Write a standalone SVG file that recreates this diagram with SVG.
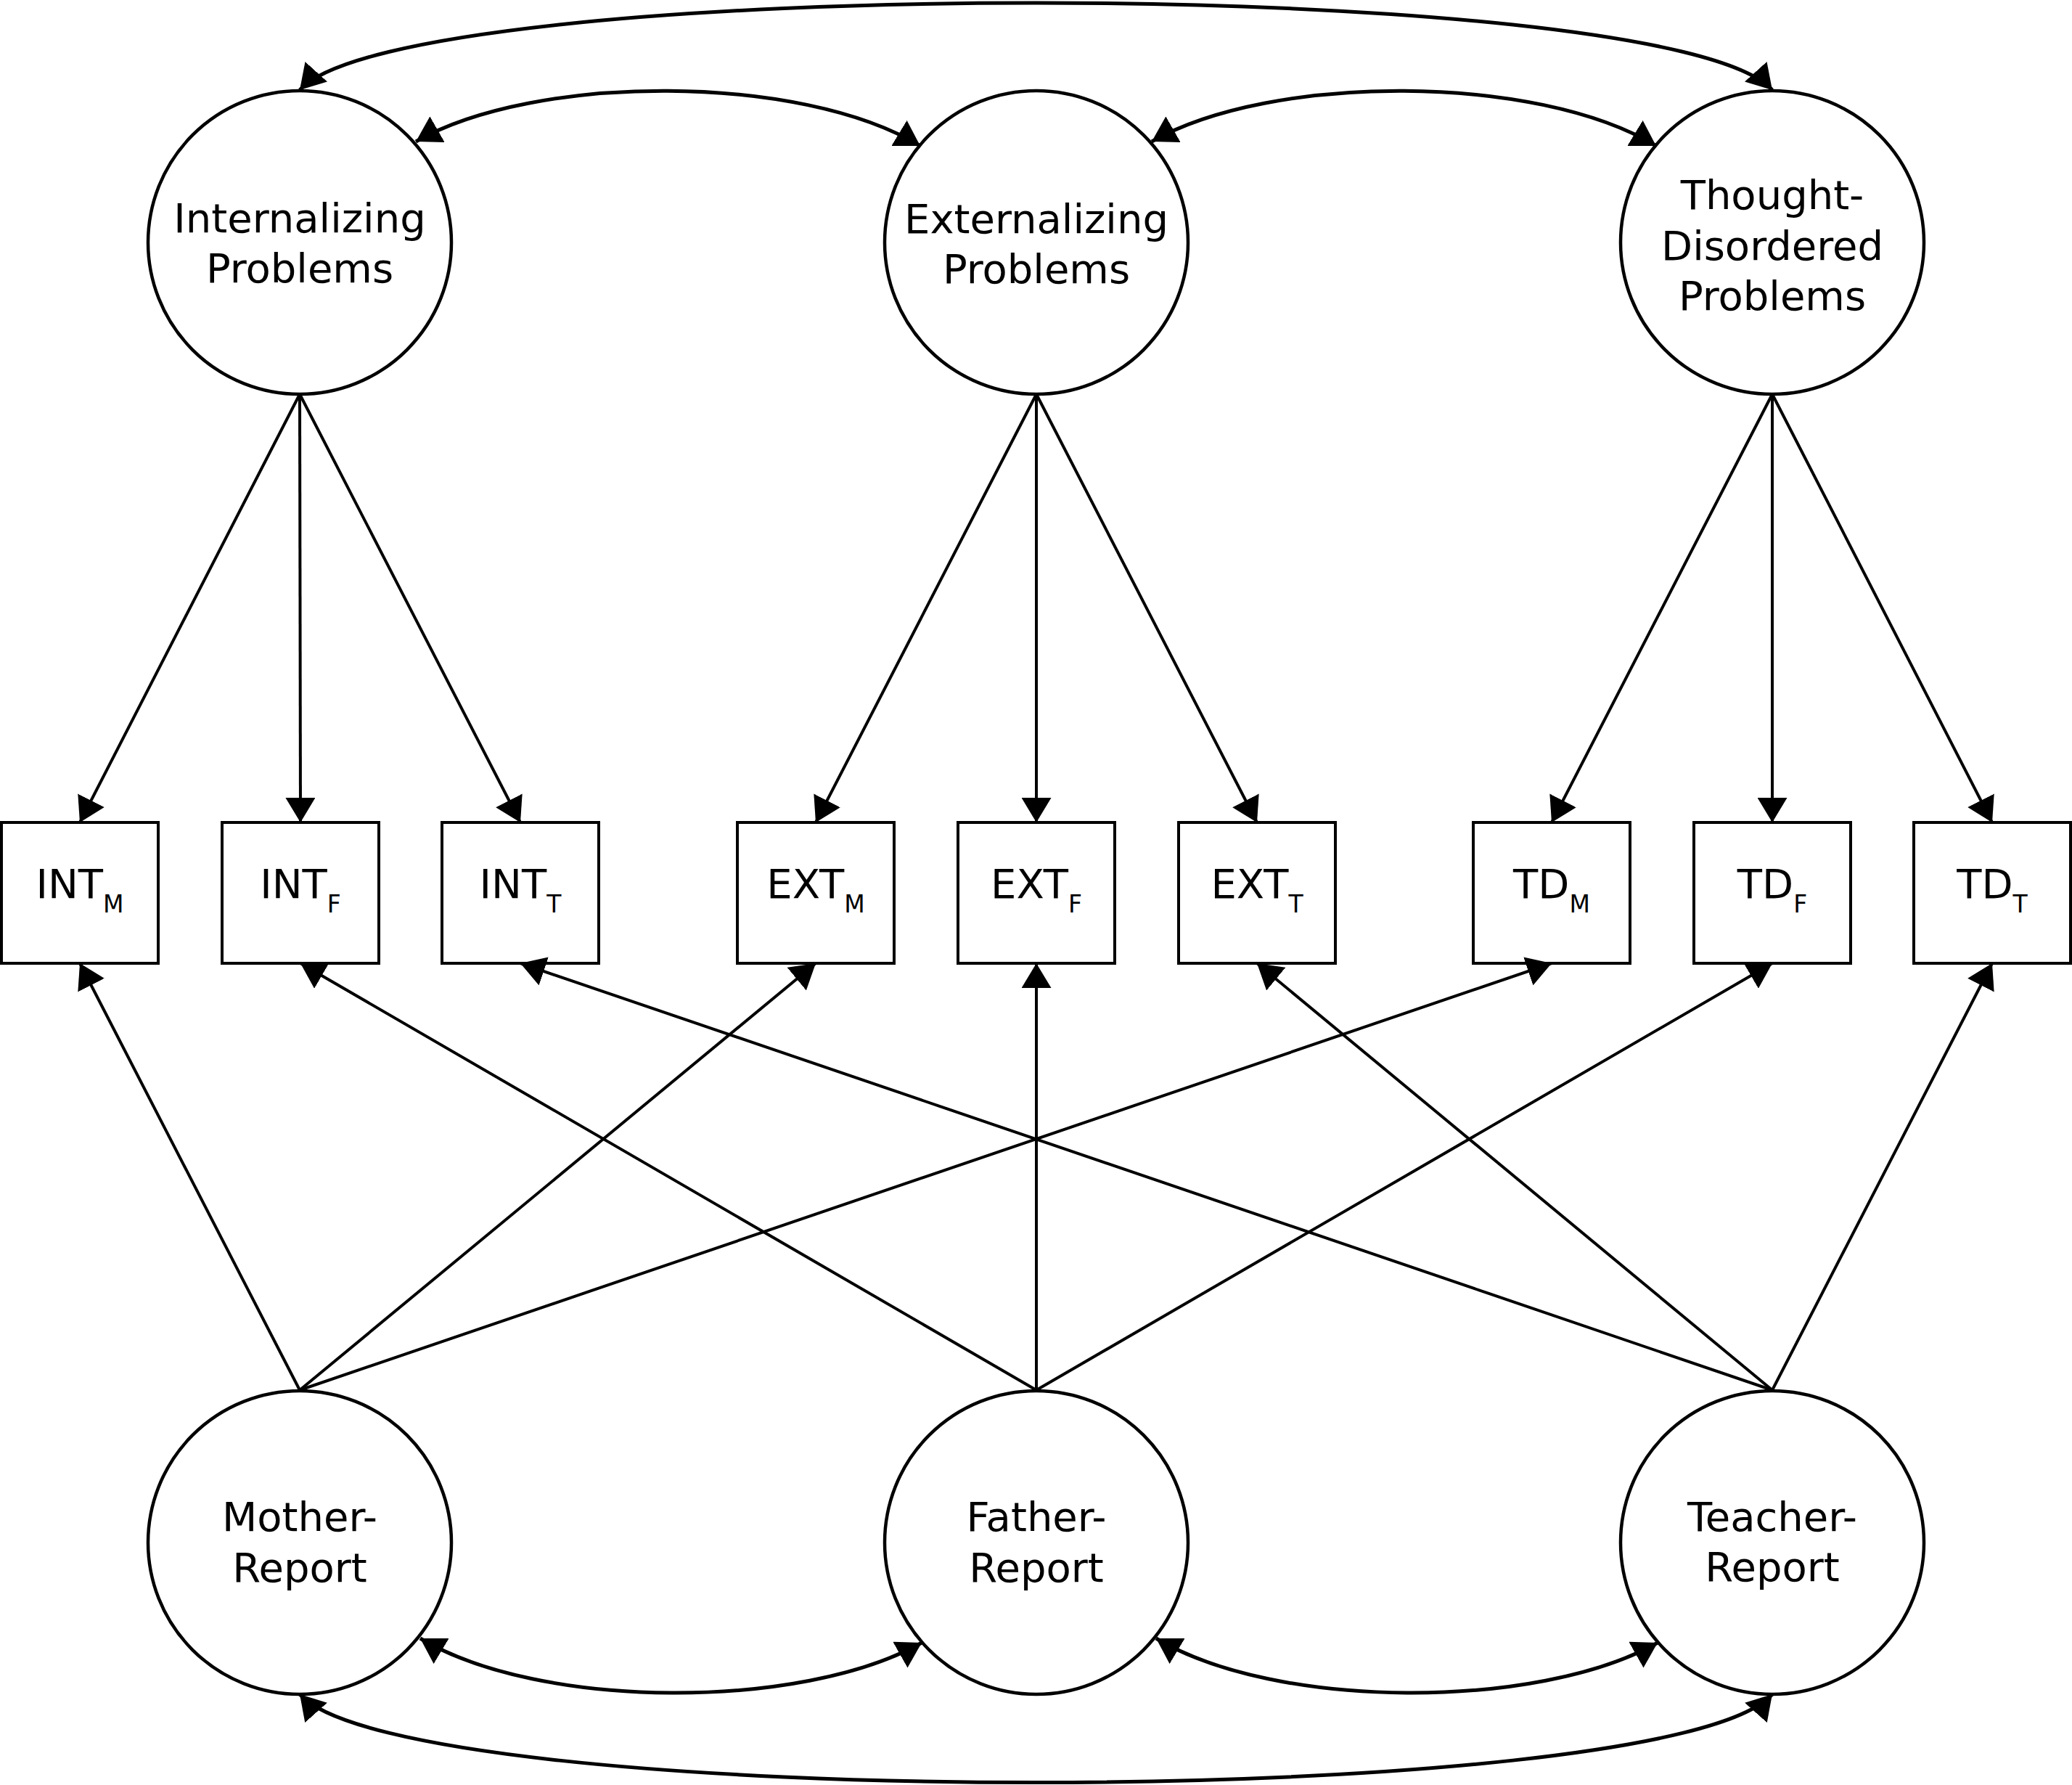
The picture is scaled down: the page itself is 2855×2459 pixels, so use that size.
<svg xmlns="http://www.w3.org/2000/svg" width="2855" height="2459" viewBox="0 0 2855 2459">
<defs>
<style>
.latent{fill:#fff;stroke:#000;stroke-width:4.5}
.obs{fill:#fff;stroke:#000;stroke-width:4}
.lbl{font-family:"DejaVu Sans","Liberation Sans",sans-serif;font-size:56px;fill:#000;text-anchor:middle}
.sub{font-size:33px}
.path{fill:none;stroke:#000;stroke-width:4;marker-end:url(#ah)}
.cov{fill:none;stroke:#000;stroke-width:5;marker-start:url(#ah);marker-end:url(#ah)}
</style>
<marker id="ah" markerUnits="userSpaceOnUse" markerWidth="34" markerHeight="41" viewBox="0 0 34 41" refX="34" refY="20.5" orient="auto-start-reverse">
<path d="M0,0 L34,20.5 L0,41 Z" fill="#000"/>
</marker>
</defs>
<rect width="2855" height="2459" fill="#fff"/>

<g id="node-internalizing">
<circle class="latent" cx="413" cy="334" r="209"/>
<text class="lbl" x="413" y="320">Internalizing</text>
<text class="lbl" x="413" y="389">Problems</text>
</g>
<g id="node-externalizing">
<circle class="latent" cx="1428" cy="334" r="209"/>
<text class="lbl" x="1428" y="321">Externalizing</text>
<text class="lbl" x="1428" y="390">Problems</text>
</g>
<g id="node-thought">
<circle class="latent" cx="2442" cy="334" r="209"/>
<text class="lbl" x="2442" y="288">Thought-</text>
<text class="lbl" x="2442" y="358">Disordered</text>
<text class="lbl" x="2442" y="427">Problems</text>
</g>

<g id="node-int-m"><rect class="obs" x="2" y="1133" width="216" height="194"/><text class="lbl" x="110" y="1237">INT<tspan class="sub" dy="20">M</tspan></text></g>
<g id="node-int-f"><rect class="obs" x="306" y="1133" width="216" height="194"/><text class="lbl" x="414" y="1237">INT<tspan class="sub" dy="20">F</tspan></text></g>
<g id="node-int-t"><rect class="obs" x="609" y="1133" width="216" height="194"/><text class="lbl" x="717" y="1237">INT<tspan class="sub" dy="20">T</tspan></text></g>
<g id="node-ext-m"><rect class="obs" x="1016" y="1133" width="216" height="194"/><text class="lbl" x="1124" y="1237">EXT<tspan class="sub" dy="20">M</tspan></text></g>
<g id="node-ext-f"><rect class="obs" x="1320" y="1133" width="216" height="194"/><text class="lbl" x="1428" y="1237">EXT<tspan class="sub" dy="20">F</tspan></text></g>
<g id="node-ext-t"><rect class="obs" x="1624" y="1133" width="216" height="194"/><text class="lbl" x="1732" y="1237">EXT<tspan class="sub" dy="20">T</tspan></text></g>
<g id="node-td-m"><rect class="obs" x="2030" y="1133" width="216" height="194"/><text class="lbl" x="2138" y="1237">TD<tspan class="sub" dy="20">M</tspan></text></g>
<g id="node-td-f"><rect class="obs" x="2334" y="1133" width="216" height="194"/><text class="lbl" x="2442" y="1237">TD<tspan class="sub" dy="20">F</tspan></text></g>
<g id="node-td-t"><rect class="obs" x="2637" y="1133" width="216" height="194"/><text class="lbl" x="2745" y="1237">TD<tspan class="sub" dy="20">T</tspan></text></g>

<g id="node-mother">
<circle class="latent" cx="413" cy="2125" r="209"/>
<text class="lbl" x="413" y="2109">Mother-</text>
<text class="lbl" x="413" y="2179">Report</text>
</g>
<g id="node-father">
<circle class="latent" cx="1428" cy="2125" r="209"/>
<text class="lbl" x="1428" y="2109">Father-</text>
<text class="lbl" x="1428" y="2179">Report</text>
</g>
<g id="node-teacher">
<circle class="latent" cx="2442" cy="2125" r="209"/>
<text class="lbl" x="2442" y="2109">Teacher-</text>
<text class="lbl" x="2442" y="2178">Report</text>
</g>

<g id="connectors">
<path class="cov" d="M413 124 C557 -36 2298 -36 2442 124"/>
<path class="cov" d="M573 195 C738 101 1103 101 1268 201"/>
<path class="cov" d="M1587 195 C1752 101 2117 101 2282 201"/>
<path class="cov" d="M579 2257 C744 2356 1105 2356 1270 2263"/>
<path class="cov" d="M1593 2257 C1758 2356 2119 2356 2284 2263"/>
<path class="cov" d="M413 2334 C557 2496 2298 2496 2442 2334"/>

<path class="path" d="M413 543 L110 1133"/>
<path class="path" d="M413 543 L414 1133"/>
<path class="path" d="M413 543 L717 1133"/>
<path class="path" d="M1428 543 L1124 1133"/>
<path class="path" d="M1428 543 L1428 1133"/>
<path class="path" d="M1428 543 L1732 1133"/>
<path class="path" d="M2442 543 L2138 1133"/>
<path class="path" d="M2442 543 L2442 1133"/>
<path class="path" d="M2442 543 L2745 1133"/>

<path class="path" d="M413 1915 L110 1327"/>
<path class="path" d="M413 1915 L1124 1327"/>
<path class="path" d="M413 1915 L2138 1327"/>
<path class="path" d="M1428 1915 L414 1327"/>
<path class="path" d="M1428 1915 L1428 1327"/>
<path class="path" d="M1428 1915 L2442 1327"/>
<path class="path" d="M2442 1915 L717 1327"/>
<path class="path" d="M2442 1915 L1732 1327"/>
<path class="path" d="M2442 1915 L2745 1327"/>
</g>
</svg>
